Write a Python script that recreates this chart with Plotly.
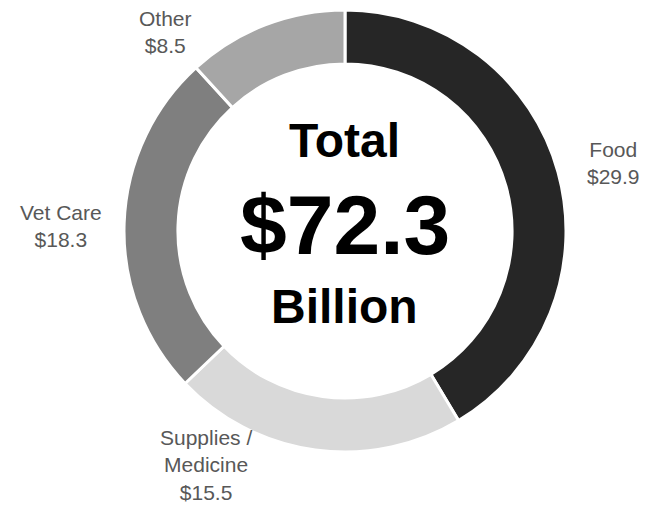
import plotly.graph_objects as go

W, H = 654, 505

# Spending categories (US$ billions)
categories = ["Food", "Supplies /<br>Medicine", "Vet Care", "Other"]
values = [29.9, 15.5, 18.3, 8.5]
colors = ["#262626", "#d9d9d9", "#7f7f7f", "#a6a6a6"]
total = 72.3

# Label anchor points in pixels (x from left, y from top)
label_pos = [(613, 163), (206, 465), (61, 226), (165, 32)]

cx, cy, r = 345, 231, 221

def px(x):
    return x / W

def py(y):
    return 1 - y / H

fig = go.Figure(go.Pie(
    labels=categories,
    values=values,
    hole=0.756,
    sort=False,
    direction="clockwise",
    rotation=0,
    marker=dict(colors=colors, line=dict(color="white", width=3)),
    textinfo="none",
    hoverinfo="label+value",
    showlegend=False,
    domain=dict(x=[px(cx - r), px(cx + r)], y=[py(cy + r), py(cy - r)]),
))

annotations = []
for (lx, ly), name, v in zip(label_pos, categories, values):
    annotations.append(dict(
        x=px(lx), y=py(ly), xref="paper", yref="paper",
        text=f"{name}<br>${v}", showarrow=False,
        xanchor="center", yanchor="middle", align="center",
        font=dict(family="Liberation Sans, Arial, sans-serif", size=21, color="#585858"),
    ))

center_font = "Liberation Sans, Arial, sans-serif"
for text, y, size in [("<b>Total</b>", 140, 48), (f"<b>${total}</b>", 225, 84), ("<b>Billion</b>", 306, 48)]:
    annotations.append(dict(
        x=px(cx), y=py(y), xref="paper", yref="paper",
        text=text, showarrow=False, xanchor="center", yanchor="middle",
        font=dict(family=center_font, size=size, color="#000000"),
    ))

fig.update_layout(
    width=W, height=H,
    margin=dict(l=0, r=0, t=0, b=0),
    paper_bgcolor="white", plot_bgcolor="white",
    annotations=annotations,
)

fig.write_html("out.html")
